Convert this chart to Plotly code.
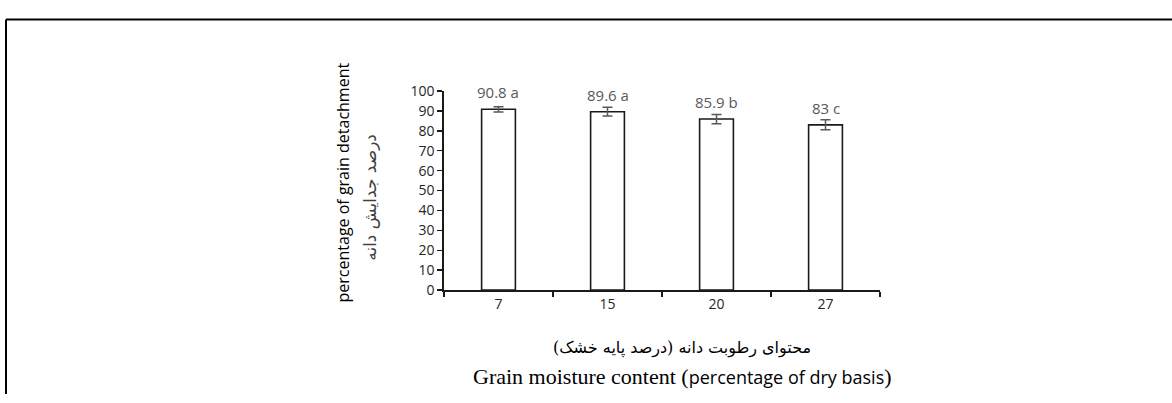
import plotly.graph_objects as go

categories = ["7", "15", "20", "27"]
values = [90.8, 89.6, 85.9, 83.0]
errors = [1.3, 2.2, 2.3, 2.5]
letters = ["a", "a", "b", "c"]
y_ticks = list(range(0, 101, 10))

W, H = 1172, 403

fig = go.Figure()
fig.add_trace(go.Bar(
    x=list(range(len(categories))), y=values,
    marker=dict(color="white", line=dict(color="#1a1a1a", width=1.6)),
    width=0.31,
    error_y=dict(type="data", array=errors, visible=True, color="#595959",
                 thickness=1.5, width=5),
    hoverinfo="skip",
))

for i, (v, l) in enumerate(zip(values, letters)):
    lab = f"{v:g} {l}"
    fig.add_annotation(x=i, y=v, xref="x", yref="y", text=lab, showarrow=False,
                       yshift=17, yanchor="middle", xanchor="center",
                       font=dict(family="Open Sans", size=15, color="#595959"))

# y-axis titles
fig.add_annotation(x=343 / W, y=1 - 181 / H, xref="paper", yref="paper",
                   xanchor="center", yanchor="middle",
                   text="percentage of grain detachment", textangle=-90, showarrow=False,
                   font=dict(family="Open Sans", size=16, color="#000000"))
fig.add_annotation(x=370 / W, y=1 - 197 / H, xref="paper", yref="paper",
                   xanchor="center", yanchor="middle",
                   text="درصد جدایش دانه", textangle=-90, showarrow=False,
                   font=dict(family="DejaVu Sans", size=17, color="#404040"))

# x-axis titles
fig.add_annotation(x=682 / W, y=1 - 355 / H, xref="paper", yref="paper",
                   xanchor="center", yanchor="middle",
                   text="محتوای رطوبت دانه (درصد پایه خشک)", showarrow=False,
                   font=dict(family="DejaVu Serif, DejaVu Sans", size=16, color="#000000"))
fig.add_annotation(x=682 / W, y=1 - 385 / H, xref="paper", yref="paper",
                   xanchor="center", yanchor="middle",
                   text="Grain moisture content (<span style=\"font-family:'Open Sans';font-size:18px\">percentage of dry basis</span>)",
                   showarrow=False,
                   font=dict(family="Liberation Serif", size=22, color="#000000"))

# outer frame (top and left)
fig.add_shape(type="line", xref="paper", yref="paper", x0=6 / W, x1=1.0,
              y0=1 - 10 / H, y1=1 - 10 / H, line=dict(color="black", width=2))
fig.add_shape(type="line", xref="paper", yref="paper", x0=6 / W, x1=6 / W,
              y0=0, y1=1 - 10 / H, line=dict(color="black", width=2))

fig.update_layout(
    width=W, height=H, autosize=False,
    margin=dict(l=0, r=0, t=0, b=0),
    paper_bgcolor="white", plot_bgcolor="white",
    showlegend=False,
    xaxis=dict(domain=[444 / W, 880 / W], range=[-0.5, len(categories) - 0.5],
               tickvals=list(range(len(categories))), ticktext=categories,
               showline=True, linecolor="#1a1a1a", linewidth=1.6,
               ticks="", showgrid=False, zeroline=False,
               minor=dict(tickvals=[i - 0.5 for i in range(len(categories) + 1)],
                          ticks="outside", ticklen=5, tickwidth=1.5, tickcolor="#1a1a1a"),
               tickfont=dict(family="Open Sans", size=14, color="#262626")),
    yaxis=dict(domain=[1 - 294 / H, 1 - 85 / H], range=[0, 100],
               tickvals=y_ticks, showline=True, linecolor="#1a1a1a", linewidth=1.6,
               ticks="outside", ticklen=5, tickwidth=1.5, tickcolor="#1a1a1a",
               showgrid=False, zeroline=False,
               tickfont=dict(family="Open Sans", size=14, color="#262626")),
)

fig.write_html("out.html", config={"displayModeBar": False, "staticPlot": True},
               post_script="document.documentElement.style.margin='0px';"
                           "document.body.style.margin='0px';document.body.style.padding='0px';"
                           "document.body.style.overflow='hidden';")
